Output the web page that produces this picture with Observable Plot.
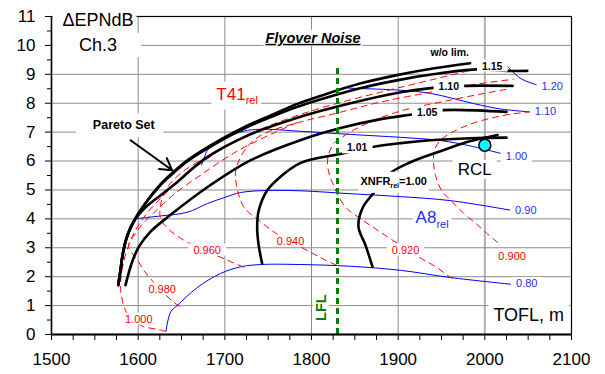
<!DOCTYPE html>
<html><head><meta charset="utf-8">
<script src="https://cdn.jsdelivr.net/npm/d3@7"></script>
<script src="https://cdn.jsdelivr.net/npm/@observablehq/plot@0.6"></script>
<style>body{margin:0;background:#fff}#chart{width:605px;height:374px}</style>
</head><body><div id="chart"></div>
<script>
// ---------- ticks ----------
const xTicks = [1500, 1600, 1700, 1800, 1900, 2000, 2100];
const xMinorTicks = [1525,1550,1575,1625,1650,1675,1725,1750,1775,1825,1850,1875,1925,1950,1975,2025,2050,2075];
const yTicks = [0,1,2,3,4,5,6,7,8,9,10,11];
const yMinorTicks = [0.5,1.5,2.5,3.5,4.5,5.5,6.5,7.5,8.5,9.5,10.5];
const gridX = [1600, 1700, 1800, 1900];
const gridXRcl = [2000];
const gridY = [1,2,3,4,5,6,7,8,9,10];

// ---------- Pareto sets (XNFR_rel limits), [TOFL, dEPNdB] ----------
const woLim   = [[1577,1.71],[1579.5,2.2],[1582,2.74],[1586.5,3.33],[1594.5,3.89],[1608.5,4.55],[1626,5.2],[1640,5.6],[1658,6.05],[1695,6.74],[1724,7.2],[1753,7.58],[1782,7.96],[1810,8.25],[1856,8.68],[1900,8.98],[1940,9.2],[1983,9.38]];
const xnfr115 = [[1577,1.71],[1579.5,2.2],[1582,2.74],[1586.5,3.33],[1594.5,3.89],[1608.5,4.54],[1626,5.18],[1640,5.57],[1658,6.02],[1695,6.7],[1724,7.15],[1753,7.52],[1782,7.86],[1810,8.13],[1856,8.52],[1900,8.8],[1940,9.0],[1990,9.17],[2026,9.12],[2049,9.12]];
const xnfr110 = [[1577,1.71],[1579.5,2.2],[1582,2.74],[1586.5,3.33],[1594.5,3.89],[1608.5,4.40],[1626,4.82],[1641,5.17],[1678,6.10],[1730,6.93],[1787,7.53],[1845,8.0],[1903,8.38],[1940,8.53],[1975,8.60],[2032,8.60]];
const xnfr105 = [[1585.4,1.71],[1593,2.51],[1600.7,3.03],[1614,3.55],[1637,4.13],[1683.5,5.17],[1730,6.03],[1787,6.72],[1833.5,7.14],[1880,7.45],[1916.5,7.61],[1951,7.76],[2025,7.70]];
const xnfr101 = [[1743,2.46],[1739,3.1],[1737.3,3.72],[1739.2,4.30],[1749,4.99],[1764,5.45],[1787,5.93],[1836,6.26],[1869,6.48],[1903,6.62],[1937,6.72],[1983.5,6.79],[2025,6.81]];
const xnfr100 = [[1870.4,2.34],[1862.3,3.09],[1854.2,3.72],[1858.8,4.37],[1871.5,4.89],[1891.2,5.59],[1914.2,5.96],[1948.8,6.34],[1983.5,6.69],[2014.6,6.90]];

// ---------- A8_rel iso-lines ----------
const a8_120 = [[2023.8,9.35],[2041.2,8.86],[2060.4,8.63]];
const a8_110 = [[1843,8.52],[1902.7,8.45],[1937.3,8.34],[1986.9,7.99],[2018.1,7.80],[2052.7,7.70]];
const a8_100 = [[1673.1,5.86],[1676.5,6.13],[1680,6.38],[1689.2,6.62],[1703.1,6.83],[1721.5,7.03],[1741.2,7.1],[1787.3,7.03],[1845,6.92],[1902.7,6.82],[1948.8,6.71],[1983.5,6.52],[2021.5,6.24]];
const a8_090 = [[1596.9,4.01],[1625.8,4.10],[1656.9,4.23],[1680,4.53],[1700.8,4.75],[1718.1,4.91],[1746.9,4.98],[1787.3,4.97],[1845,4.87],[1902.7,4.77],[1960.4,4.63],[2029.6,4.30]];
const a8_080 = [[1632,0.1],[1637.5,0.78],[1645,1.0],[1668,1.62],[1695,2.11],[1718.1,2.34],[1741.2,2.42],[1787.3,2.42],[1845,2.36],[1902.7,2.22],[1960.4,1.97],[2029.6,1.74]];

// ---------- T41_rel iso-lines ----------
const t41_1000 = [[1631.5,0.11],[1623.5,0.17],[1605,0.29],[1591.2,0.56],[1584.2,0.91],[1580.8,1.33],[1579.6,1.71],[1583.1,2.50],[1588.8,3.06],[1595.8,3.54],[1608.5,4.13],[1628.1,4.78],[1654.6,5.51],[1689.2,6.27],[1729.6,6.97]];
const t41_0980 = [[1647.7,0.98],[1640.8,1.12],[1610.8,2.05],[1599.2,2.57],[1588.8,3.06],[1594.6,3.40],[1605,3.82],[1621.2,4.30],[1643.1,4.89],[1671.9,5.51],[1712.3,6.31],[1758.5,7.0],[1787.3,7.38]];
const t41_0960 = [[1721.5,2.33],[1703.1,2.57],[1656.9,3.19],[1633.8,3.68],[1625.8,4.02],[1625.8,4.47],[1631.5,4.99],[1646.5,5.51],[1671.9,6.03],[1706.5,6.62],[1752.7,7.24],[1810.4,7.83],[1879.6,8.38],[1937.3,8.80],[1983.5,9.14]];
const t41_0940 = [[1828.8,2.40],[1816.2,2.57],[1798.8,2.85],[1758.5,3.51],[1738.8,3.96],[1722.7,4.37],[1716.9,4.75],[1713.5,5.17],[1712.3,5.61],[1718.1,6.13],[1729.6,6.62],[1746.9,6.97],[1787.3,7.35],[1833.5,7.69],[1879.6,8.04],[1937.3,8.38],[1983.5,8.63],[2033.1,8.83]];
const t41_0920 = [[1962.7,1.95],[1958.1,2.02],[1944.2,2.33],[1925.8,2.64],[1879.6,3.54],[1858.8,3.96],[1840.4,4.37],[1831.2,4.78],[1825.4,5.17],[1820.8,5.51],[1818.5,6.03],[1825.4,6.59],[1839.2,6.90],[1862.3,7.28],[1902.7,7.73],[1960.4,8.11],[2026.2,8.49]];
const t41_0900 = [[2014.6,3.19],[2001.9,3.51],[1990.4,3.82],[1975.4,4.20],[1962.7,4.58],[1950.0,4.99],[1943.1,5.51],[1940.8,5.96],[1941.9,6.38],[1948.8,6.72],[1962.7,7.0],[1983.5,7.28],[2006.5,7.48],[2029.6,7.62],[2052.7,7.70]];

// ---------- reference points ----------
const rclPoint = [{x: 2000, y: 6.55}];
const lflLine = [{x: 1830, y1: 0, y2: 9.32}];

// ---------- labels ----------
const xnfrLabels = [
  {text: "w/o lim.", x: 1959.5, y: 9.75},
  {text: "1.15", x: 2008.5, y: 9.28},
  {text: "1.10", x: 1958.4, y: 8.57},
  {text: "1.05", x: 1933.5, y: 7.67},
  {text: "1.01", x: 1852.7, y: 6.45}
];
const a8Labels = [
  {text: "1.20", x: 2077.7, y: 8.57},
  {text: "1.10", x: 2070, y: 7.70},
  {text: "1.00", x: 2036.5, y: 6.15},
  {text: "0.90", x: 2047.3, y: 4.30},
  {text: "0.80", x: 2048.4, y: 1.76}
];
const t41Labels = [
  {text: "1.000", x: 1600.7, y: 0.53},
  {text: "0.980", x: 1627.7, y: 1.57},
  {text: "0.960", x: 1679.6, y: 2.92},
  {text: "0.940", x: 1775.8, y: 3.23},
  {text: "0.920", x: 1908.5, y: 2.92},
  {text: "0.900", x: 2031.5, y: 2.71}
];
const yTitle = [{text: "ΔEPNdB", x: 1553.7, y: 10.88}];
const chLabel = [{text: "Ch.3", x: 1553.7, y: 10.01}];
const titleLabel = [{text: "Flyover Noise", x: 1801.7, y: 10.25}];
const t41Title = [{text: "T41_{rel}", x: 1714.2, y: 8.31}];
const a8Title = [{text: "A8_{rel}", x: 1939.2, y: 4.04}];
const xnfrTitle = [{text: "XNFR_{rel}=1.00", x: 1894.8, y: 5.30}];
const rclLabel = [{text: "RCL", x: 1988.3, y: 5.71}];
const xTitle = [{text: "TOFL, m", x: 2050.7, y: 0.68}];
const paretoLabel = [{text: "Pareto Set", x: 1583.4, y: 7.24}];
const paretoArrow = [{x1: 1591.2, y1: 6.72, x2: 1639.3, y2: 5.68}];
const lflLabel = [{text: "LFL", x: 1811.3, y: 0.93}];

const F = "'Liberation Sans', Arial, Helvetica, sans-serif";
const P = d => d[0], Q = d => d[1];
const curve = "catmull-rom";
const BLUE = "#0000ff", RED = "#ff0000";
const blk = arr => Plot.line(arr, {x: P, y: Q, stroke: "black", strokeWidth: 2.6, curve});
const blu = arr => Plot.line(arr, {x: P, y: Q, stroke: BLUE, strokeWidth: 1, curve});
const red = arr => Plot.line(arr, {x: P, y: Q, stroke: RED, strokeWidth: 1, strokeDasharray: "6,5", curve});
const txt = (data, o) => Plot.text(data, {x: "x", y: "y", text: "text", fontFamily: F, ...o});

const svg = Plot.plot({
  width: 605, height: 374,
  marginLeft: 51, marginRight: 34, marginTop: 16, marginBottom: 40,
  x: {domain: [1500, 2100], axis: null},
  y: {domain: [0, 11], axis: null},
  style: {fontFamily: F, background: "white", color: "black"},
  marks: [
    Plot.ruleX(gridX, {stroke: "#8c8c8c", strokeWidth: 1}),
    Plot.ruleX(gridXRcl, {stroke: "#b0b0b0", strokeWidth: 2}),
    Plot.ruleY(gridY, {stroke: "#8c8c8c", strokeWidth: 1}),
    Plot.frame({stroke: "black", strokeWidth: 1.2}),
    blu(a8_120), blu(a8_110), blu(a8_100), blu(a8_090), blu(a8_080),
    red(t41_1000), red(t41_0980), red(t41_0960), red(t41_0940), red(t41_0920), red(t41_0900),
    blk(woLim), blk(xnfr115), blk(xnfr110), blk(xnfr105), blk(xnfr101), blk(xnfr100),
    Plot.ruleX(lflLine, {x: "x", y1: "y1", y2: "y2", stroke: "#008000", strokeWidth: 3, strokeDasharray: "6,4"}),
    Plot.arrow(paretoArrow, {x1: "x1", y1: "y1", x2: "x2", y2: "y2", stroke: "black", strokeWidth: 2, headLength: 10}),
    txt(xnfrLabels, {fontWeight: "bold", fontSize: 10.5, fill: "black"}),
    txt(a8Labels, {fontSize: 11, fill: "#2a2aff"}),
    txt(t41Labels, {fontSize: 11, fill: RED}),
    txt(yTitle, {fontSize: 18, fill: "black"}),
    txt(chLabel, {fontSize: 18, fill: "black"}),
    txt(titleLabel, {fontSize: 14.5, fontWeight: "bold", fontStyle: "italic", fill: "black"}),
    txt(t41Title, {fontSize: 17, fill: RED}),
    txt(a8Title, {fontSize: 17, fill: "#2a2aff"}),
    txt(xnfrTitle, {fontSize: 11, fontWeight: "bold", fill: "black"}),
    txt(rclLabel, {fontSize: 17, fill: "black"}),
    txt(xTitle, {fontSize: 18, fill: "black"}),
    txt(paretoLabel, {fontSize: 12.5, fontWeight: "bold", fill: "black"}),
    txt(lflLabel, {fontSize: 14.5, fontWeight: "bold", fill: "#008000", rotate: -90}),
    Plot.dot(rclPoint, {x: "x", y: "y", r: 6, fill: "#00ffff", stroke: "black", strokeWidth: 1.5}),
    Plot.ruleX([1500], {stroke: "black", strokeWidth: 1.5}),
    Plot.ruleY([0], {stroke: "black", strokeWidth: 2}),
    Plot.axisX({ticks: xTicks, tickSize: 6, tickPadding: 12, fontSize: 17, label: null, tickFormat: d => String(d)}),
    Plot.axisX({ticks: xMinorTicks, tickSize: 6, label: null, tickFormat: () => ""}),
    Plot.axisY({ticks: yTicks, tickSize: 6, tickPadding: 10, fontSize: 17, label: null, tickFormat: d => String(d)}),
    Plot.axisY({ticks: yMinorTicks, tickSize: 4, label: null, tickFormat: () => ""})
  ]
});
document.getElementById("chart").appendChild(svg);

// subscripts, underline and label background boxes
(function finish() {
  const ns = "http://www.w3.org/2000/svg";
  const texts = svg.querySelectorAll('g[aria-label="text"] text');
  texts.forEach(t => {
    const m = t.textContent.match(/^(.*?)_\{(.*?)\}(.*)$/);
    if (!m) return;
    const fs = parseFloat(getComputedStyle(t).fontSize);
    while (t.firstChild) t.removeChild(t.firstChild);
    t.appendChild(document.createTextNode(m[1]));
    const sub = document.createElementNS(ns, "tspan");
    sub.setAttribute("font-size", (fs * 0.65) + "px");
    sub.setAttribute("dy", (fs * 0.28) + "px");
    sub.textContent = m[2];
    t.appendChild(sub);
    if (m[3]) {
      const rest = document.createElementNS(ns, "tspan");
      rest.setAttribute("dy", (-fs * 0.28) + "px");
      rest.textContent = m[3];
      t.appendChild(rest);
    }
  });
  const pads = {
    "ΔEPNdB": [10, 3, 10, 4], "Ch.3": [26, 24, 2, 2], "Pareto Set": [17, 8, 5, 5],
    "T41rel": [5, 3, 3, 3], "A8rel": [3, 3, 0, 0], "XNFRrel=1.00": [2, 2, 3, 3],
    "Flyover Noise": [2, 2, 0, 0]
  };
  texts.forEach(t => {
    const key = t.textContent;
    if (key === "Flyover Noise") t.style.textDecoration = "underline";
    const b = t.getBBox();
    const p = pads[key] || [5, 5, 0, 0];
    const r = document.createElementNS(ns, "rect");
    r.setAttribute("x", b.x - p[0]);
    r.setAttribute("y", b.y - p[2]);
    r.setAttribute("width", b.width + p[0] + p[1]);
    r.setAttribute("height", b.height + p[2] + p[3]);
    r.setAttribute("fill", "white");
    r.setAttribute("stroke", "none");
    const tr = t.getAttribute("transform");
    if (tr) r.setAttribute("transform", tr);
    t.parentNode.insertBefore(r, t);
  });
})();
</script>
</body></html>
